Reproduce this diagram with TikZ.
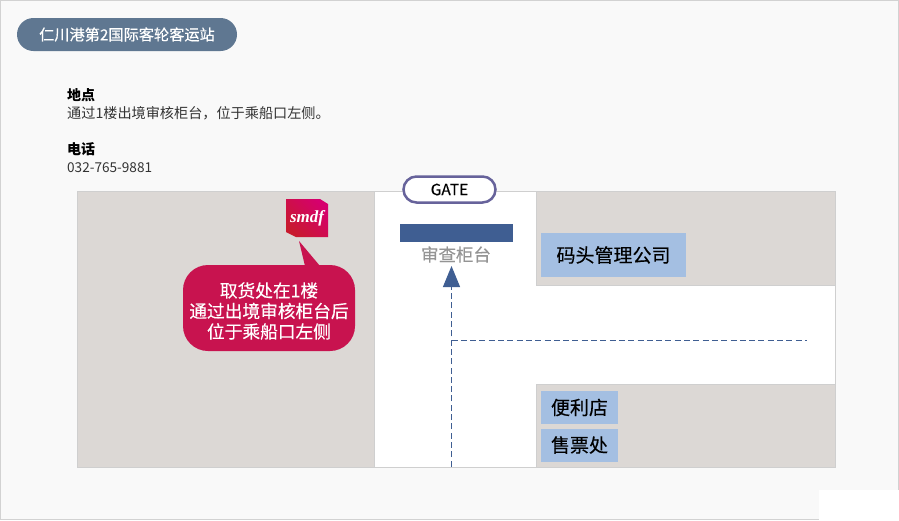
\documentclass[tikz,border=0pt]{standalone}
\usepackage{fontspec}
\setmainfont{Noto Sans CJK SC}
\newfontfamily\midfont[FakeBold=0.35]{Noto Sans CJK SC}
\newfontfamily\logofont{Liberation Serif}
\usetikzlibrary{arrows.meta}
\definecolor{pagebg}{HTML}{F9F9F9}
\definecolor{pageline}{HTML}{D2D2D2}
\definecolor{pillblue}{HTML}{5F7791}
\definecolor{mapgray}{HTML}{DCD8D5}
\definecolor{mapline}{HTML}{CFCFCF}
\definecolor{gateline}{HTML}{67639B}
\definecolor{barblue}{HTML}{3F5E92}
\definecolor{shopblue}{HTML}{A4BFE2}
\definecolor{calloutred}{HTML}{C8134F}
\definecolor{bodytext}{HTML}{333333}
\definecolor{logored}{HTML}{C81A2E}
\definecolor{logopink}{HTML}{D6006E}
\tikzset{
    infotext/.style={anchor=west,inner sep=0pt,text=bodytext,font=\fontsize{14.15}{14}\selectfont},
    infohead/.style={anchor=west,inner sep=0pt,text=black,font=\fontsize{14}{14}\selectfont\bfseries},
    mapblock/.style={fill=mapgray,draw=mapline,line width=1pt},
    shopbox/.style={fill=shopblue,inner sep=0pt,text=black,font=\fontsize{19}{19}\midfont},
}
\begin{document}
\begin{tikzpicture}[x=1pt,y=-1pt]
    \useasboundingbox (0,0) rectangle (899,520);
    \draw[fill=pagebg,draw=pageline,line width=1pt] (0.5,0.5) rectangle (898.5,519.5);
    \fill[white] (819,490) rectangle (899,520);

    \node[fill=pillblue,rounded corners=16.5pt,minimum width=220pt,minimum height=33pt,inner sep=0pt,text=white,font=\fontsize{15.2}{15}\midfont] (title) at (127,34.5) {仁川港第2国际客轮客运站};

    \node[infohead] (addrhead) at (67,95) {地点};
    \node[infotext] (addrtext) at (67,113.5) {通过1楼出境审核柜台，位于乘船口左侧。};
    \node[infohead] (telhead) at (67,149) {电话};
    \node[infotext,font=\fontsize{13.6}{14}\selectfont] (teltext) at (67,167.5) {032-765-9881};

    \draw[fill=white,draw=mapline,line width=1pt] (77.5,191.5) rectangle (835.5,467.5);
    \draw[mapblock] (77.5,191.5) rectangle (374.5,467.5);
    \draw[mapblock] (536,191.5) rectangle (835.5,285);
    \draw[mapblock] (536,384) rectangle (835.5,467.5);

    \node[draw=gateline,line width=2.5pt,fill=white,rounded corners=13pt,minimum width=92pt,minimum height=26pt,inner sep=0pt,font=\fontsize{15.5}{15}\midfont] (gate) at (449.5,189.5) {GATE};

    \node[fill=barblue,minimum width=113pt,minimum height=18pt,inner sep=0pt] (counter) at (456.5,232.5) {};
    \node[inner sep=0pt,text=black!42,font=\fontsize{17.5}{17}\midfont] (counterlabel) at (456,254.5) {审查柜台};

    \coordinate (arrowtip) at (451.5,266);
    \coordinate (entry) at (451.5,466.5);
    \coordinate (turn) at (451.5,340.5);
    \coordinate (exit) at (807,340.5);
    \draw[barblue,line width=1pt,dash pattern=on 6pt off 3.3pt,-{Triangle[length=21pt,width=17pt]}] (entry) -- (arrowtip);
    \draw[barblue,line width=1pt,dash pattern=on 6pt off 3.3pt] (turn) -- (exit);

    \node[shopbox,minimum width=145pt,minimum height=44pt] (office) at (613.5,255) {码头管理公司};
    \node[shopbox,minimum width=77pt,minimum height=33pt] (store) at (579.5,407.5) {便利店};
    \node[shopbox,minimum width=77pt,minimum height=33pt] (ticket) at (579.5,445) {售票处};

    \shade[bottom color=logored,top color=logopink,shading angle=-45] (286,199) -- (320,199) -- (328,204) -- (328,237) -- (296,237) -- (286,232) -- cycle;
    \node[inner sep=0pt,text=white,font=\logofont\fontsize{17}{17}\selectfont\bfseries\itshape] (logo) at (307,218) {smdf};

    \fill[calloutred,rounded corners=25pt] (183,265) rectangle (355,351);
    \fill[calloutred] (299,241) -- (305,266) -- (320,266) -- cycle;
    \node[align=center,inner sep=0pt,text=white,font=\fontsize{17.7}{20.5}\midfont] (callout) at (269,311) {取货处在1楼\\通过出境审核柜台后\\位于乘船口左侧};
\end{tikzpicture}
\end{document}
